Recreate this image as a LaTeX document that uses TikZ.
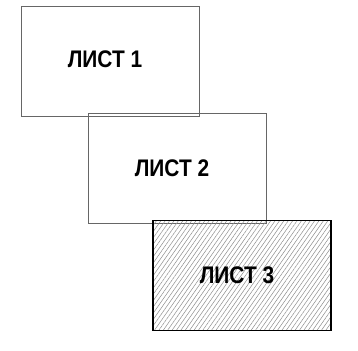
\documentclass[tikz,border=0pt]{standalone}
\usepackage{fontspec}
\setmainfont{Liberation Sans}
\usetikzlibrary{patterns.meta}

\tikzset{
  sheet/.style={draw=black!60, line width=0.7pt, minimum width=178pt, minimum height=110pt, inner sep=0pt},
  sheetlabel/.style={font=\bfseries\fontsize{24}{24}\selectfont, xscale=0.87, inner sep=0pt},
}

\begin{document}
\begin{tikzpicture}[x=1pt, y=-1pt]
      \useasboundingbox (0,0) rectangle (358,350);

      % Sheets
      \node[sheet] (sheet1) at (110,61.5) {};
      \node[sheet] (sheet2) at (177,168.5) {};
      \node[sheet, draw=black, line width=1.1pt,
            pattern={Lines[angle=55, distance=3.6pt, line width=0.5pt]}, pattern color=black!45]
            (sheet3) at (242,275.5) {};

      % Labels
      \node[sheetlabel] (label1) at ([xshift=-5pt, yshift=2pt]sheet1.center) {ЛИСТ 1};
      \node[sheetlabel] (label2) at ([xshift=-5pt]sheet2.center) {ЛИСТ 2};
      \node[sheetlabel] (label3) at ([xshift=-5pt]sheet3.center) {ЛИСТ 3};
\end{tikzpicture}
\end{document}
